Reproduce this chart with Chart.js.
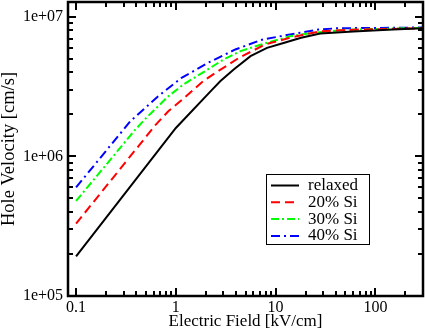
<!DOCTYPE html>
<html>
<head>
<meta charset="utf-8">
<script src="https://cdn.jsdelivr.net/npm/chart.js@4"></script>
<style>
  html, body { margin: 0; padding: 0; background: #fff; }
</style>
</head>
<body>
<canvas id="chart" width="425" height="332"></canvas>
<script>
// values (log-log)
const seriesNames = ['relaxed', '20% Si', '30% Si', '40% Si']

const relaxedX = [0.1, 1, 2.3, 2.8, 3.8, 5.6, 8.2, 12, 18, 28, 60, 150, 300]
const relaxedY = [1.92e5, 1.6e6, 3.0e6, 3.47e6, 4.2e6, 5.24e6, 6.0e6, 6.5e6, 7.1e6, 7.6e6, 7.88e6, 8.13e6, 8.3e6]

const si20X = [0.1, 0.62, 0.84, 1.19, 1.88, 2.5, 4.4, 7.9, 14.6, 28, 60, 300]
const si20Y = [3.3e5, 1.67e6, 2.11e6, 2.6e6, 3.47e6, 3.98e6, 5.15e6, 6.36e6, 7.16e6, 7.9e6, 8.1e6, 8.3e6]

const si30X = [0.1, 0.39, 0.49, 0.84, 1.19, 1.95, 3.0, 4.44, 7.6, 14, 24, 50, 300]
const si30Y = [4.8e5, 1.55e6, 1.85e6, 2.7e6, 3.28e6, 4.08e6, 4.95e6, 5.69e6, 6.43e6, 7.28e6, 7.7e6, 8.1e6, 8.35e6]

const si40X = [0.1, 0.35, 0.665, 1.14, 2.11, 3.95, 7.3, 14, 27, 42, 300]
const si40Y = [6.0e5, 1.79e6, 2.7e6, 3.66e6, 4.7e6, 5.85e6, 6.87e6, 7.5e6, 8.13e6, 8.3e6, 8.4e6]

const xTicks = [0.1, 1, 10, 100]
const xTickLabels = ['0.1', '1', '10', '100']
const yTicks = [1e5, 1e6, 1e7]
const yTickLabels = ['1e+05', '1e+06', '1e+07']

const serif = 'Liberation Serif'

function pts(xs, ys) {
  return xs.map((x, i) => ({ x: x, y: ys[i] }))
}

const data = {
  datasets: [
    { label: seriesNames[0], data: pts(relaxedX, relaxedY), borderColor: '#000000', borderDash: [] },
    { label: seriesNames[1], data: pts(si20X, si20Y), borderColor: '#ff0000', borderDash: [9, 5] },
    { label: seriesNames[2], data: pts(si30X, si30Y), borderColor: '#00ff00', borderDash: [8, 3, 2, 3] },
    { label: seriesNames[3], data: pts(si40X, si40Y), borderColor: '#0000ff', borderDash: [9, 4, 2, 4] }
  ].map(d => Object.assign(d, { borderWidth: 2, pointRadius: 0, tension: 0, fill: false }))
}

// frame with inside ticks on all four sides
const framePlugin = {
  id: 'frame',
  afterDatasetsDraw(chart) {
    const c = chart.ctx
    const a = chart.chartArea
    const xs = chart.scales.x
    const ys = chart.scales.y
    c.save()
    c.strokeStyle = '#000'
    c.lineWidth = 2
    c.beginPath()
    for (let d = 0.1; d < 1000; d *= 10) {
      for (let m = 1; m < 10; m++) {
        const v = d * m
        if (v < 0.1 || v > xs.max) continue
        const px = Math.round(xs.getPixelForValue(v))
        const len = m === 1 ? 8 : 5
        c.moveTo(px, a.bottom); c.lineTo(px, a.bottom - len)
        c.moveTo(px, a.top); c.lineTo(px, a.top + len)
      }
    }
    for (let d = 1e5; d < 1e8; d *= 10) {
      for (let m = 1; m < 10; m++) {
        const v = d * m
        if (v < ys.min || v > ys.max) continue
        const py = Math.round(ys.getPixelForValue(v))
        const len = m === 1 ? 8 : 5
        c.moveTo(a.left, py); c.lineTo(a.left + len, py)
        c.moveTo(a.right, py); c.lineTo(a.right - len, py)
      }
    }
    c.stroke()
    c.lineWidth = 2.5
    c.strokeRect(a.left, a.top, a.right - a.left, a.bottom - a.top)
    c.restore()
  },
  afterDraw(chart) {
    // legend box inside the plot
    const c = chart.ctx
    const bx = 266, by = 174, bw = 103, bh = 70
    c.save()
    c.fillStyle = '#fff'
    c.fillRect(bx, by, bw, bh)
    c.strokeStyle = '#000'
    c.lineWidth = 1
    c.strokeRect(bx + 0.5, by + 0.5, bw, bh)
    c.font = '17px "' + serif + '"'
    c.textBaseline = 'middle'
    chart.data.datasets.forEach((ds, i) => {
      const y = by + 11.5 + i * 16.8
      c.strokeStyle = ds.borderColor
      c.lineWidth = 2
      c.setLineDash(ds.borderDash)
      c.beginPath()
      c.moveTo(271, y); c.lineTo(299, y)
      c.stroke()
      c.setLineDash([])
      c.fillStyle = '#000'
      c.fillText(ds.label, 308, y)
    })
    c.restore()
  }
}

const ctx = document.getElementById('chart').getContext('2d')

const config = {
  type: 'line',
  data: data,
  options: {
    responsive: false,
    animation: false,
    layout: { padding: { top: 2, right: 2, left: 0, bottom: 0 } },
    plugins: { legend: { display: false }, tooltip: { enabled: false } },
    scales: {
      x: {
        type: 'logarithmic',
        min: 0.083,
        max: 300,
        grid: { display: false, drawTicks: false },
        border: { display: false },
        afterBuildTicks: s => { s.ticks = xTicks.map(v => ({ value: v })) },
        afterFit: s => { s.height = 36; s.paddingLeft = 0; s.paddingRight = 0 },
        ticks: {
          autoSkip: false, maxRotation: 0, padding: 2, color: '#000',
          font: { family: serif, size: 16 },
          callback: (v, i) => xTickLabels[i]
        },
        title: {
          display: true, text: 'Electric Field [kV/cm]', color: '#000',
          font: { family: serif, size: 17 }, padding: 0
        }
      },
      y: {
        type: 'logarithmic',
        min: 1e5,
        max: 1.28e7,
        grid: { display: false, drawTicks: false },
        border: { display: false },
        afterBuildTicks: s => { s.ticks = yTicks.map(v => ({ value: v })) },
        afterFit: s => { s.width = 68; s.paddingTop = 0; s.paddingBottom = 0 },
        ticks: {
          autoSkip: false, padding: 5, color: '#000',
          font: { family: serif, size: 16 },
          callback: (v, i) => yTickLabels[i]
        },
        title: {
          display: true, text: 'Hole Velocity [cm/s]', color: '#000',
          font: { family: serif, size: 18.5, lineHeight: 1 }, padding: 0
        }
      }
    }
  },
  plugins: [framePlugin]
}

const myChart = new Chart(ctx, config)
</script>
</body>
</html>
